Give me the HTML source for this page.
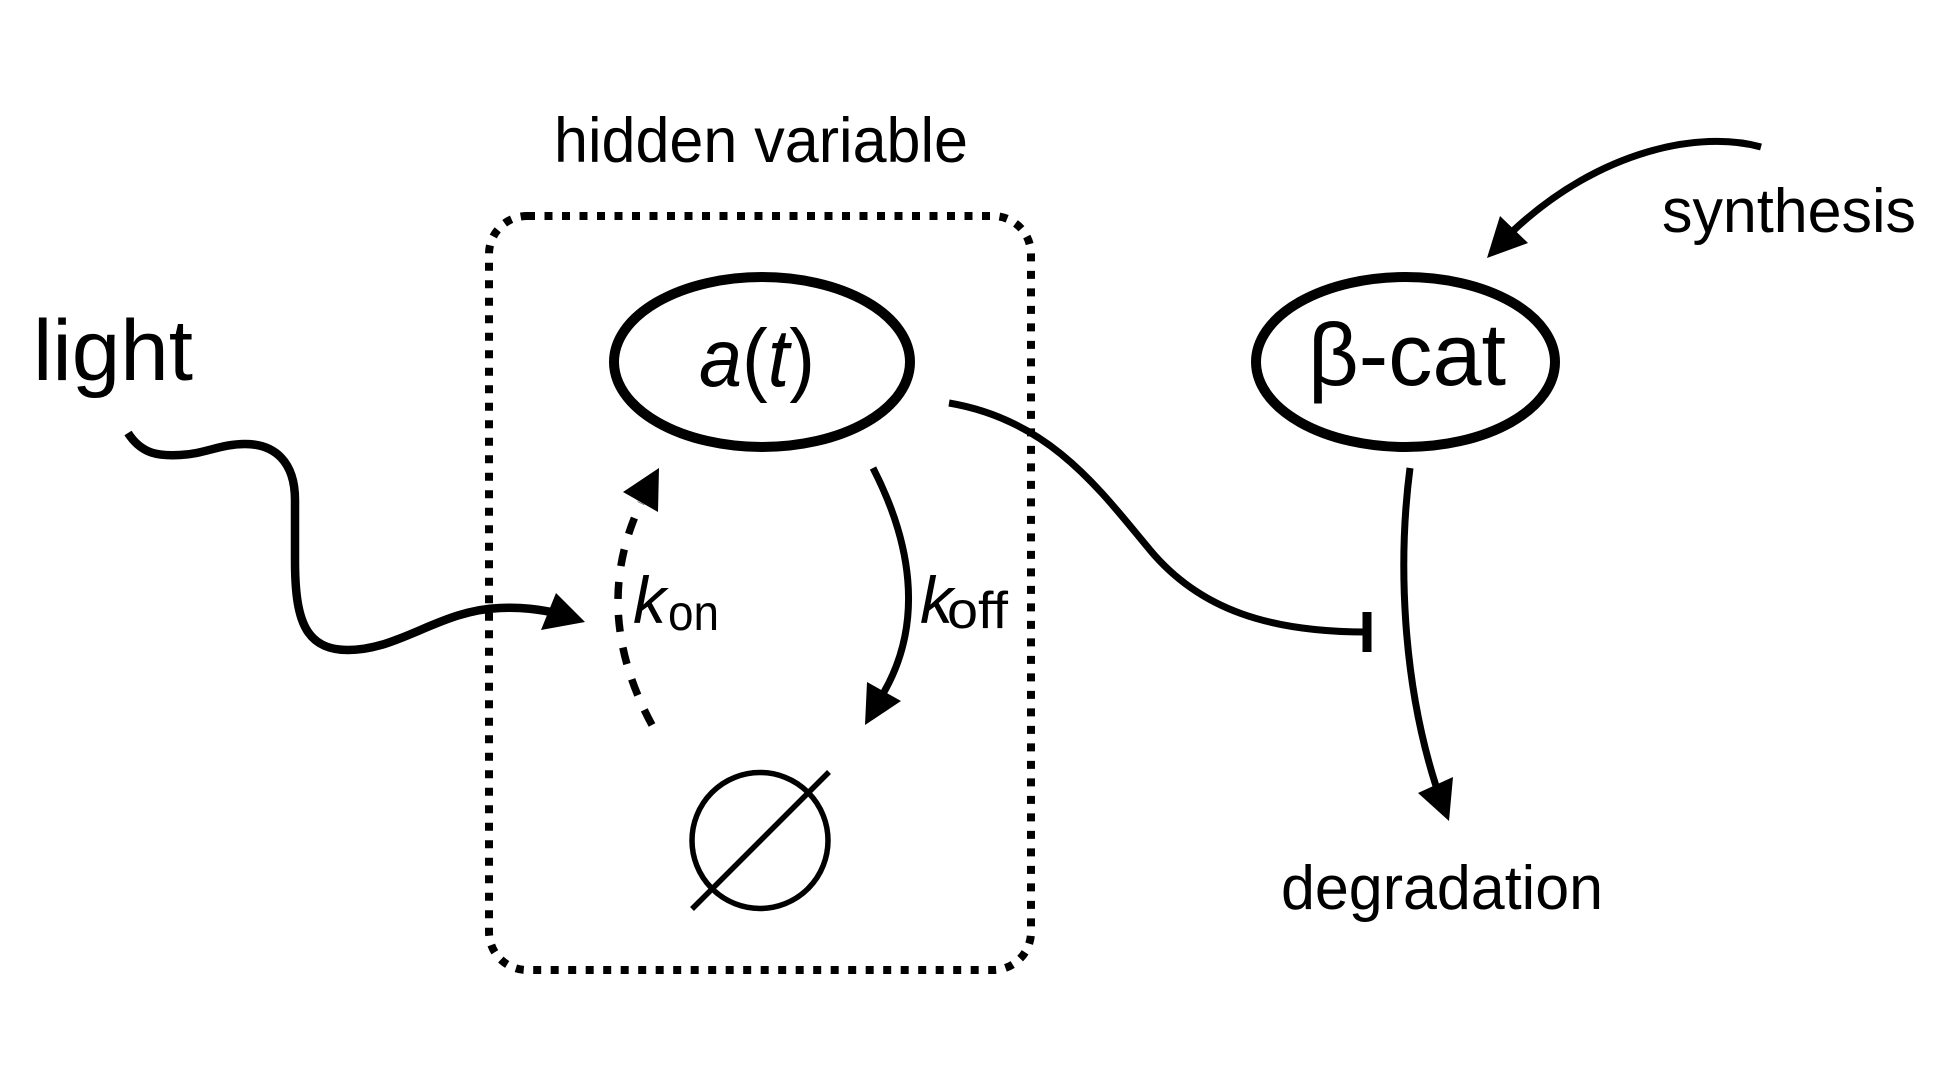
<!DOCTYPE html>
<html>
<head>
<meta charset="utf-8">
<style>
  html, body { margin: 0; padding: 0; background: #fff; }
  body { width: 1952px; height: 1092px; overflow: hidden; }
  svg { display: block; }
  text { font-family: "Liberation Sans", Arial, sans-serif; fill: #000; }
</style>
</head>
<body>
<svg width="1952" height="1092" viewBox="0 0 1952 1092" xmlns="http://www.w3.org/2000/svg">
  <rect x="0" y="0" width="1952" height="1092" fill="#fff"/>

  <!-- hidden variable label -->
  <text x="554" y="162" font-size="63" textLength="414" lengthAdjust="spacingAndGlyphs">hidden variable</text>

  <!-- dotted box -->
  <rect x="489" y="216" width="542" height="754" rx="38" ry="38" fill="none" stroke="#000" stroke-width="8" stroke-dasharray="8 9.5"/>

  <!-- a(t) ellipse -->
  <ellipse cx="762" cy="362" rx="148" ry="85" fill="none" stroke="#000" stroke-width="10"/>
  <text x="699" y="386" font-size="82" textLength="116" lengthAdjust="spacingAndGlyphs"><tspan font-style="italic">a</tspan>(<tspan font-style="italic">t</tspan>)</text>

  <!-- beta-cat ellipse -->
  <ellipse cx="1405.5" cy="362" rx="149.5" ry="85" fill="none" stroke="#000" stroke-width="10"/>
  <text x="1308" y="385" font-size="88" textLength="198" lengthAdjust="spacingAndGlyphs">β-cat</text>

  <!-- light -->
  <text x="33" y="380" font-size="86" textLength="160" lengthAdjust="spacingAndGlyphs">light</text>

  <!-- synthesis -->
  <text x="1662" y="232" font-size="62" textLength="254" lengthAdjust="spacingAndGlyphs">synthesis</text>

  <!-- degradation -->
  <text x="1281" y="909" font-size="62" textLength="322" lengthAdjust="spacingAndGlyphs">degradation</text>

  <!-- k_on -->
  <text x="633" y="623" font-size="66" font-style="italic">k</text>
  <text x="668" y="630" font-size="50" textLength="51" lengthAdjust="spacingAndGlyphs">on</text>

  <!-- k_off -->
  <text x="920" y="623" font-size="66" font-style="italic">k</text>
  <text x="947" y="628" font-size="52" textLength="61" lengthAdjust="spacingAndGlyphs">off</text>

  <!-- wavy light arrow -->
  <path d="M128,433 C142,455 160,456 180,455 C205,454 220,444 245,444 C275,444 295,462 295,500 L295,560 C295,620 305,650 348,650 C400,650 440,610 500,608 C525,607 540,610 551,612"
        fill="none" stroke="#000" stroke-width="8.5"/>
  <polygon points="585,622 556,593 541,630" fill="#000"/>

  <!-- k_on dashed arc -->
  <path d="M652,725 Q590,610 641,503" fill="none" stroke="#000" stroke-width="7.5" stroke-dasharray="17 16"/>
  <polygon points="659,468 623,492 658,512" fill="#000"/>

  <!-- k_off arc -->
  <path d="M873,468 C910,540 925,620 884,692" fill="none" stroke="#000" stroke-width="7"/>
  <polygon points="865,725 867,682 901,701" fill="#000"/>

  <!-- empty set -->
  <circle cx="760" cy="840.5" r="68" fill="none" stroke="#000" stroke-width="5.5"/>
  <line x1="692" y1="909" x2="829" y2="772" stroke="#000" stroke-width="5.5"/>

  <!-- inhibition curve from a(t) -->
  <path d="M949,403 C1050,420 1100,490 1150,550 C1200,610 1270,632 1367,632" fill="none" stroke="#000" stroke-width="7"/>
  <line x1="1367" y1="612" x2="1367" y2="652" stroke="#000" stroke-width="9"/>

  <!-- beta-cat degradation arrow -->
  <path d="M1410,468 C1398,560 1402,680 1436,786" fill="none" stroke="#000" stroke-width="7"/>
  <polygon points="1449,821 1418,793 1453,777" fill="#000"/>

  <!-- synthesis arrow -->
  <path d="M1761,147 C1700,130 1600,150 1514,230" fill="none" stroke="#000" stroke-width="7"/>
  <polygon points="1487,258 1500,216 1528,243" fill="#000"/>
</svg>
</body>
</html>
